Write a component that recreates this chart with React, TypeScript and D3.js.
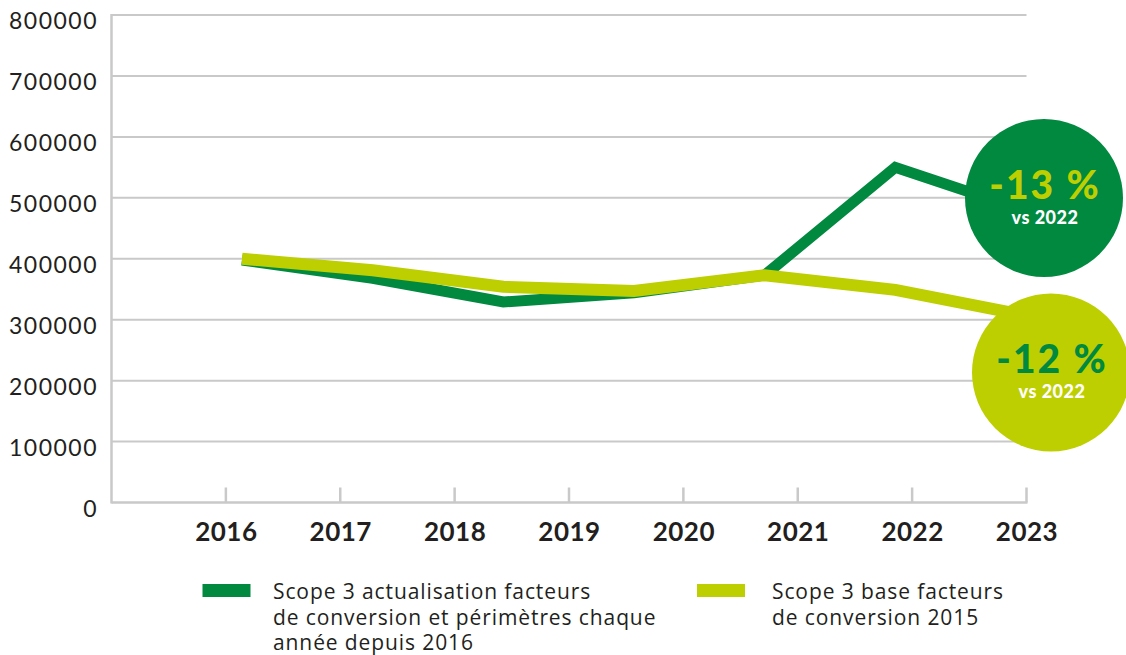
import React from "react";
import * as d3 from "d3";

// axis labels along the bottom
const yearLabels = ["2016", "2017", "2018", "2019", "2020", "2021", "2022", "2023"];
const yTicks = [0, 100000, 200000, 300000, 400000, 500000, 600000, 700000, 800000];

// the plotted points (7 of them, spread under the 8 labels as in the original)
const scopeActualise = [398000, 368000, 329000, 344000, 373000, 550000, 478500];
const scopeBase2015 = [400000, 381000, 354000, 347000, 373000, 349000, 307000];

const legendGreen = ["Scope 3 actualisation facteurs", "de conversion et périmètres chaque", "année depuis 2016"];
const legendLime = ["Scope 3 base facteurs", "de conversion 2015"];

const GREEN = "#00893f";
const LIME = "#bdcf00";
const GRID = "#c9c9c9";
const INK = "#231f20";
const FONT = "Lato, 'Open Sans', sans-serif";
const LEGEND_FONT = "'Open Sans', Lato, sans-serif";

const W = 1126;
const H = 655;

export default function App() {
  const y = d3.scaleLinear().domain([0, 800000]).range([502.5, 15]);
  const xAxis = d3.scaleLinear().domain([0, yearLabels.length]).range([111.5, 1026.5]);
  const xPt = d3
    .scalePoint<number>()
    .domain(d3.range(scopeActualise.length))
    .range([242, 1026]);

  const line = d3
    .line<number>()
    .x((_, i) => xPt(i) as number)
    .y(d => y(d));

  const last = scopeActualise.length - 1;
  const pct = (a: number[]) => Math.round((a[last] / a[last - 1] - 1) * 100);

  const bubbles = [
    { fill: GREEN, text: LIME, value: pct(scopeActualise), cx: xPt(last)! + 18, cy: y(scopeActualise[last]) - 13 },
    { fill: LIME, text: GREEN, value: pct(scopeBase2015), cx: xPt(last)! + 25, cy: y(scopeBase2015[last]) + 57 },
  ];

  return (
    <svg width={W} height={H} style={{ position: "absolute", left: 0, top: 0, background: "#fff" }} fontFamily={FONT}>
      {/* grid + y labels */}
      {yTicks.map(t => (
        <g key={t}>
          {t > 0 && <line x1={xAxis(0)} x2={xAxis(yearLabels.length)} y1={y(t)} y2={y(t)} stroke={GRID} strokeWidth={2} />}
          <text x={98} y={y(t) + 14} textAnchor="end" fontSize={23} letterSpacing={1.5} fill={INK}>
            {t}
          </text>
        </g>
      ))}
      <line x1={xAxis(0)} x2={xAxis(0)} y1={y(800000) - 1} y2={y(0) + 1} stroke={GRID} strokeWidth={2.5} />
      <line x1={xAxis(0)} x2={xAxis(yearLabels.length) + 1} y1={y(0)} y2={y(0)} stroke={GRID} strokeWidth={2.5} />
      {yearLabels.map((lab, i) => (
        <g key={lab}>
          <line x1={xAxis(i + 1)} x2={xAxis(i + 1)} y1={y(0) - 15} y2={y(0)} stroke={GRID} strokeWidth={2.5} />
          <text x={xAxis(i + 1) + 0.5} y={541} textAnchor="middle" fontSize={26} fontWeight={700} letterSpacing={0.5} fill={INK}>
            {lab}
          </text>
        </g>
      ))}

      {/* series */}
      <path d={line(scopeActualise) || ""} fill="none" stroke={GREEN} strokeWidth={11} strokeLinejoin="miter" />
      <path d={line(scopeBase2015) || ""} fill="none" stroke={LIME} strokeWidth={12} strokeLinejoin="miter" />

      {/* callouts */}
      {bubbles.map((b, i) => (
        <g key={i}>
          <circle cx={b.cx} cy={b.cy} r={79} fill={b.fill} />
          <text x={b.cx + 1} y={b.cy + 1} textAnchor="middle" fontSize={39} fontWeight={900} letterSpacing={2} fill={b.text}>
            {`${b.value} %`}
          </text>
          <text x={b.cx + 1} y={b.cy + 26} textAnchor="middle" fontSize={18} fontWeight={900} letterSpacing={0.5} fill="#fff">
            vs 2022
          </text>
        </g>
      ))}

      {/* legend */}
      <g fontFamily={LEGEND_FONT} fontSize={21} letterSpacing={0.9} fill={INK}>
        <rect x={202.5} y={584} width={48} height={13} fill={GREEN} />
        {legendGreen.map((s, i) => (
          <text key={s} x={273} y={599 + i * 25.5}>
            {s}
          </text>
        ))}
        <rect x={697} y={584} width={48} height={13} fill={LIME} />
        {legendLime.map((s, i) => (
          <text key={s} x={772} y={599 + i * 25.5}>
            {s}
          </text>
        ))}
      </g>
    </svg>
  );
}
